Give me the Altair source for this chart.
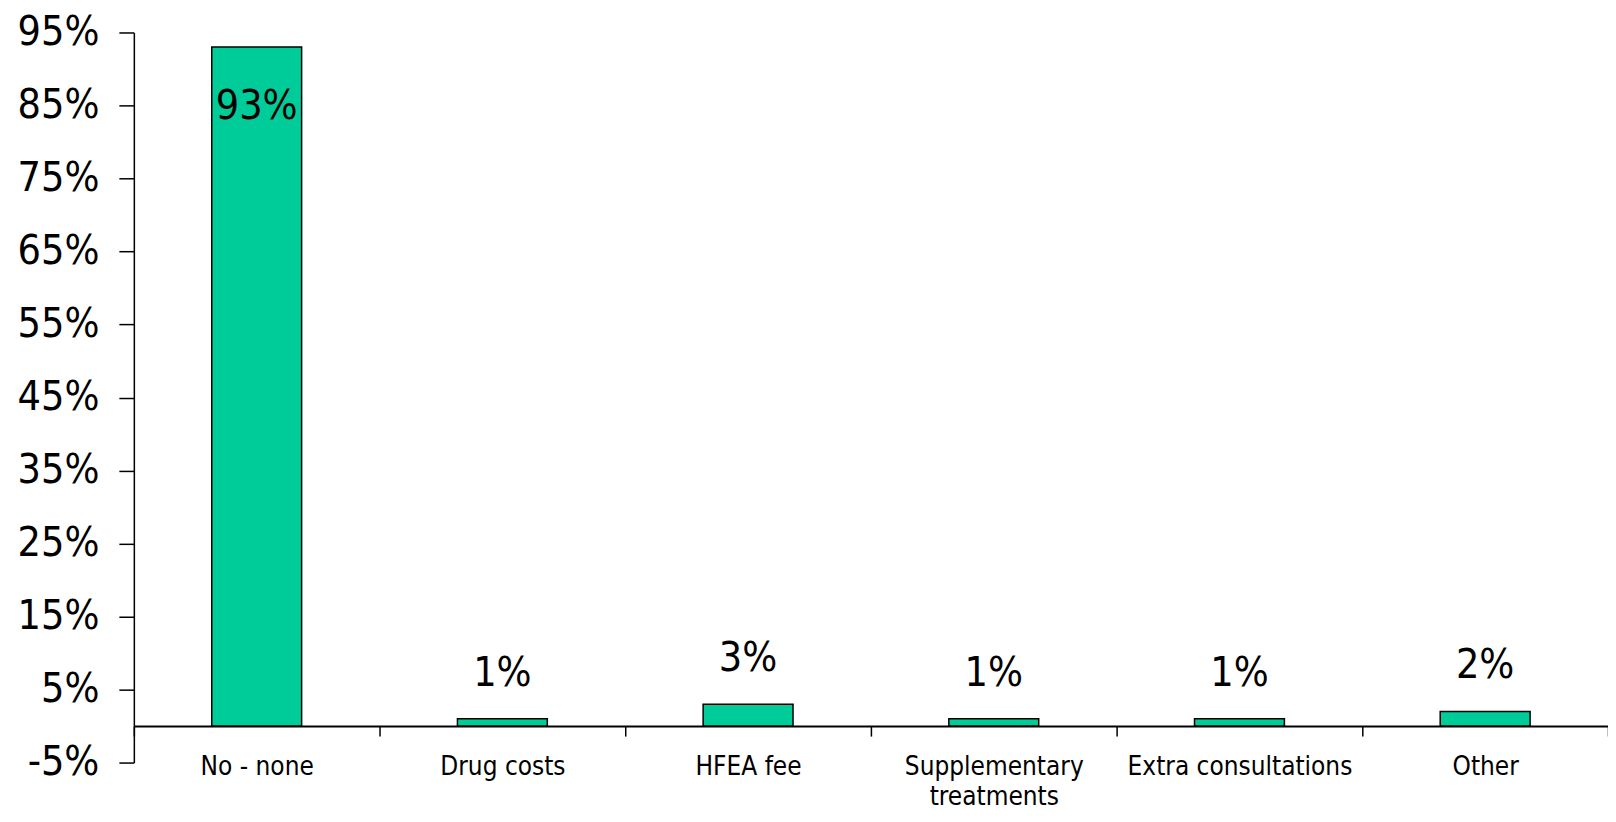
import altair as alt
import pandas as pd

categories = ["No - none", "Drug costs", "HFEA fee", "Supplementary treatments",
              "Extra consultations", "Other"]
values = [93, 1, 3, 1, 1, 2]
y_ticks = [-5, 5, 15, 25, 35, 45, 55, 65, 75, 85, 95]

df = pd.DataFrame({"category": categories, "value": values})

FONT = "DejaVu Sans Condensed, Liberation Sans Narrow, Arial Narrow, sans-serif"
BAR_COLOR = "#00CC99"

x_axis = alt.Axis(
    orient="bottom", offset=-36.5, tickBand="extent", tickSize=10,
    tickColor="black", tickWidth=1.5, domainColor="black", domainWidth=2,
    labelAngle=0, labelFont=FONT, labelFontSize=26, labelColor="black",
    labelPadding=17, labelLineHeight=31, labelLimit=0, labelOverlap=False,
    labelExpr="datum.label == 'Supplementary treatments' ? ['Supplementary', 'treatments'] : datum.label",
)
y_axis = alt.Axis(
    values=y_ticks, labelExpr="datum.value + '%'", grid=False, tickSize=15,
    tickColor="black", tickWidth=1.5, domainColor="black", domainWidth=1.5,
    labelFont=FONT, labelFontSize=41, labelColor="black", labelPadding=20,
)

x_scale = alt.Scale(paddingInner=0, paddingOuter=0)
y_scale = alt.Scale(domain=[-5, 95], nice=False)

base = alt.Chart(df)

x_enc = alt.X("category:N", sort=None, title=None, scale=x_scale, axis=x_axis)
y_enc = alt.Y("value:Q", title=None, scale=y_scale, axis=y_axis)

bars = base.mark_bar(size=90, color=BAR_COLOR, stroke="black", strokeWidth=1.5).encode(
    x=x_enc, y=y_enc, y2=alt.datum(0),
)

text_enc = dict(x=x_enc, y=y_enc, text=alt.Text("label:N"))

text_low = base.transform_calculate(label="datum.value + '%'").transform_filter(
    "datum.value < 50"
).mark_text(font=FONT, fontSize=41, color="black", baseline="middle", dy=-45).encode(**text_enc)

text_high = base.transform_calculate(label="datum.value + '%'").transform_filter(
    "datum.value >= 50"
).mark_text(font=FONT, fontSize=41, color="black", baseline="middle", dy=60).encode(**text_enc)

chart = alt.layer(bars, text_low, text_high).properties(
    width=1476, height=731,
    autosize=alt.AutoSizeParams(type="none"),
    padding={"left": 126, "top": 24, "right": 0, "bottom": 50},
).configure_view(stroke=None)

chart.save("out.html", embed_options={"renderer": "svg", "actions": False})
